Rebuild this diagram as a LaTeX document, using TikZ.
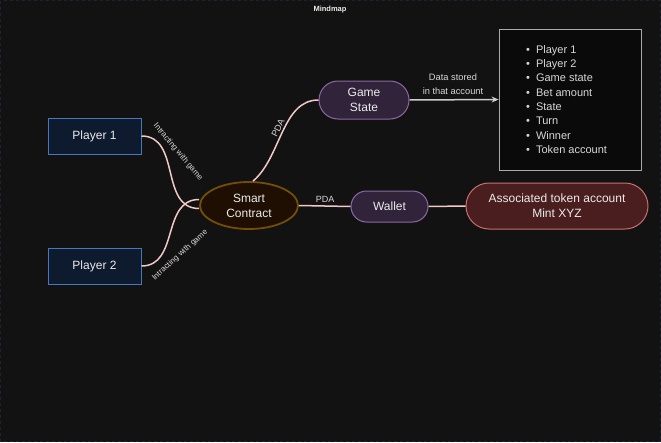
\documentclass[tikz,border=0pt]{standalone}
\usepackage{fontspec}
\setmainfont{Liberation Sans}
\usetikzlibrary{shapes.geometric,arrows.meta}
\definecolor{bg}{RGB}{18,18,18}
\definecolor{frame}{RGB}{28,36,52}
\definecolor{txt}{RGB}{235,235,235}
\definecolor{lbl}{RGB}{215,215,215}
\definecolor{plfill}{RGB}{14,26,46}
\definecolor{pldraw}{RGB}{70,120,190}
\definecolor{scfill}{RGB}{30,15,2}
\definecolor{scdraw}{RGB}{115,78,8}
\definecolor{gsfill}{RGB}{48,35,58}
\definecolor{gsdraw}{RGB}{140,105,165}
\definecolor{atafill}{RGB}{74,30,30}
\definecolor{atadraw}{RGB}{200,110,110}
\definecolor{edge}{RGB}{242,200,200}
\definecolor{arrowc}{RGB}{205,205,205}
\definecolor{boxfill}{RGB}{10,10,10}
\definecolor{boxdraw}{RGB}{170,170,170}
\begin{document}
\begin{tikzpicture}[x=1pt,y=-1pt,
  playerbox/.style={rectangle,draw=pldraw,fill=plfill,line width=1pt,minimum width=93pt,minimum height=36pt,text=txt,font=\fontsize{12}{13}\selectfont,inner sep=0pt},
  scnode/.style={ellipse,draw=scdraw,fill=scfill,line width=1.8pt,minimum width=98pt,minimum height=47pt,text=txt,font=\fontsize{12}{15}\selectfont,align=center,inner sep=0pt},
  pill/.style={rectangle,rounded corners=#1,line width=1pt,text=txt,font=\fontsize{12}{15}\selectfont,align=center,inner sep=0pt},
  conn/.style={draw=edge,line width=1.5pt},
  edgelbl/.style={text=lbl,font=\fontsize{8}{9}\selectfont,inner sep=0pt},
  pdalbl/.style={text=lbl,font=\fontsize{9}{10}\selectfont,inner sep=0pt},
]
\fill[bg] (0,0) rectangle (661,442);
\useasboundingbox (0,0) rectangle (661,442);
\draw[frame,dashed,line width=0.6pt] (0.5,0.5) rectangle (660.5,441.5);

\node[text=txt,font=\bfseries\fontsize{7.5}{8}\selectfont] (title) at (330,10) {Mindmap};

\node[playerbox] (p1) at (94.5,136) {Player 1};
\node[playerbox] (p2) at (94.5,266) {Player 2};
\node[scnode] (sc) at (249,205.5) {Smart\\Contract};
\node[pill=19pt,draw=gsdraw,fill=gsfill,minimum width=90pt,minimum height=38pt] (gs) at (364,100) {Game\\State};
\node[pill=15.5pt,draw=gsdraw,fill=gsfill,minimum width=77pt,minimum height=31pt] (wal) at (389.5,206.5) {Wallet};
\node[pill=23pt,draw=atadraw,fill=atafill,minimum width=182pt,minimum height=46pt] (ata) at (557,206) {Associated token account\\Mint XYZ};
\node[rectangle,draw=boxdraw,fill=boxfill,line width=0.8pt,minimum width=142pt,minimum height=141pt] (data) at (570,99.5) {};
\node[anchor=west,text=lbl,font=\fontsize{11}{14.3}\selectfont,align=left,inner sep=0pt] (list) at (526,99.5)
 {•\hspace{6pt}Player 1\\•\hspace{6pt}Player 2\\•\hspace{6pt}Game state\\•\hspace{6pt}Bet amount\\•\hspace{6pt}State\\•\hspace{6pt}Turn\\•\hspace{6pt}Winner\\•\hspace{6pt}Token account};

\draw[conn] (p1.east) to[out=0,in=180,looseness=1.1] ([yshift=-3pt]sc.west);
\draw[conn] (p2.east) to[out=0,in=180,looseness=1.1] ([yshift=6pt]sc.west);
\draw[conn] ([xshift=4pt]sc.north) to[out=40,in=180,looseness=0.9] (gs.west);
\draw[conn] (sc.east) -- (wal.west);
\draw[conn] (wal.east) -- (ata.west);
\draw[draw=arrowc,line width=1.5pt,-{Stealth[length=7pt,width=6pt]}] (gs.east) -- (data.west);

\node[edgelbl,rotate=-50] (l1) at (178,152) {Intracting with game};
\node[edgelbl,rotate=42] (l2) at (180,255) {Intracting with game};
\node[pdalbl,rotate=63] (l3) at (278,128) {PDA};
\node[pdalbl] (l4) at (325,199) {PDA};
\node[text=lbl,font=\fontsize{9.3}{14}\selectfont,align=center,inner sep=0pt] (l5) at (453,84) {Data stored\\in that account};
\end{tikzpicture}
\end{document}
